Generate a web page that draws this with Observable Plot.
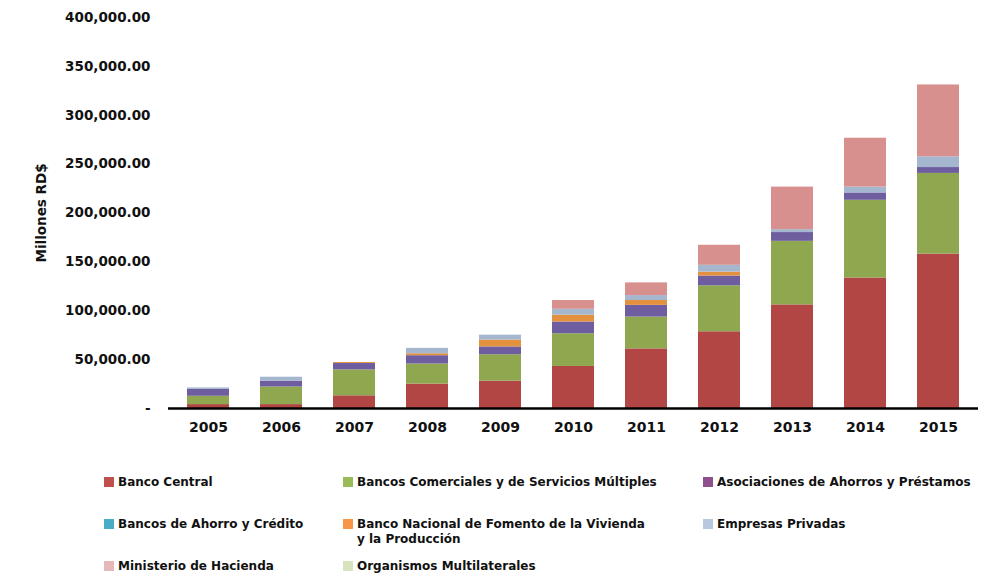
<!DOCTYPE html>
<html>
<head>
<meta charset="utf-8">
<script src="https://cdn.jsdelivr.net/npm/d3@7"></script>
<script src="https://cdn.jsdelivr.net/npm/@observablehq/plot@0.6"></script>
<style>
  html, body { margin: 0; padding: 0; background: #fff; }
  #wrap { position: relative; width: 992px; height: 577px; font-family: "DejaVu Sans", sans-serif; font-weight: bold; }
  #chart { position: absolute; left: 0; top: 0; }
  .leg { position: absolute; font-size: 12px; color: #111; line-height: 15px; }
  .sw { position: absolute; width: 10px; height: 10px; }
</style>
</head>
<body>
<div id="wrap"><div id="chart"></div><div id="legend"></div></div>
<script>
const years = ["2005","2006","2007","2008","2009","2010","2011","2012","2013","2014","2015"];
const seriesNames = [
  "Banco Central",
  "Bancos Comerciales y de Servicios Múltiples",
  "Asociaciones de Ahorros y Préstamos",
  "Bancos de Ahorro y Crédito",
  "Banco Nacional de Fomento de la Vivienda y la Producción",
  "Empresas Privadas",
  "Ministerio de Hacienda",
  "Organismos Multilaterales"
];
const bancoCentral      = [4000, 4000, 13000, 25000, 28000, 43000, 61000, 78500, 106000, 133500, 158000];
const bancosComerciales = [8500, 18000, 26500, 20500, 27000, 33500, 32500, 47000, 65000, 79500, 82500];
const asociaciones      = [7000, 6000, 6500, 8500, 8000, 12000, 12000, 10000, 9000, 7500, 6000];
const bancosAhorro      = [0, 0, 0, 0, 0, 0, 0, 0, 0, 0, 0];
const bnv               = [0, 0, 1000, 2000, 7000, 7000, 5000, 4000, 0, 0, 0];
const empresas          = [1500, 4000, 0, 5500, 5000, 6000, 5000, 7000, 3000, 6000, 11000];
const hacienda          = [0, 0, 0, 0, 0, 9000, 13000, 20500, 43500, 50000, 73500];
const organismos        = [0, 0, 0, 0, 0, 0, 0, 0, 0, 0, 0];
const yTicks = [0, 50000, 100000, 150000, 200000, 250000, 300000, 350000, 400000];

const barColors = ["#b24644", "#8fa84f", "#6e5ea0", "#4bacc6", "#e3913f", "#a5b6cf", "#d8908f", "#d7e4bd"];
const legendColors = ["#c0504d", "#9bbb59", "#8e4f8e", "#4bacc6", "#f79646", "#b7c9dd", "#e6b9b8", "#d7e4bd"];

const allSeries = [bancoCentral, bancosComerciales, asociaciones, bancosAhorro, bnv, empresas, hacienda, organismos];
const data = [];
allSeries.forEach((arr, si) => arr.forEach((v, i) => data.push({year: years[i], series: seriesNames[si], value: v})));

const fmt = d3.format(",.2f");
const chart = Plot.plot({
  width: 992,
  height: 455,
  marginLeft: 168,
  marginRight: 14,
  marginTop: 17,
  marginBottom: 47,
  style: {fontFamily: "DejaVu Sans, sans-serif", fontWeight: "bold", fontSize: "13.5px", color: "#111"},
  x: {domain: years, paddingInner: 0.43, paddingOuter: 0.215, label: null},
  y: {domain: [0, 400000], label: null},
  color: {domain: seriesNames, range: barColors},
  marks: [
    Plot.barY(data, {x: "year", y: "value", fill: "series", order: seriesNames}),
    Plot.ruleY([0], {stroke: "#000", strokeWidth: 2.5}),
    Plot.axisX({tickSize: 0, tickPadding: 14, fontSize: 14, label: null}),
    Plot.axisY({ticks: yTicks, tickSize: 0, tickPadding: 18, tickFormat: d => d === 0 ? "-" : fmt(d),
                label: "Millones RD$", labelAnchor: "center", labelArrow: "none", labelOffset: 132})
  ]
});
document.getElementById("chart").appendChild(chart);

const legendPos = [
  [104, 475], [343, 475], [703, 475],
  [104, 517], [343, 517], [703, 517],
  [104, 559], [343, 559]
];
const legendText = [
  "Banco Central",
  "Bancos Comerciales y de Servicios Múltiples",
  "Asociaciones de Ahorros y Préstamos",
  "Bancos de Ahorro y Crédito",
  "Banco Nacional de Fomento de la Vivienda<br>y la Producción",
  "Empresas Privadas",
  "Ministerio de Hacienda",
  "Organismos Multilaterales"
];
const leg = document.getElementById("legend");
legendPos.forEach(([x, y], i) => {
  const sw = document.createElement("div");
  sw.className = "sw";
  sw.style.left = x + "px"; sw.style.top = (y + 2) + "px";
  sw.style.background = legendColors[i];
  leg.appendChild(sw);
  const t = document.createElement("div");
  t.className = "leg";
  t.style.left = (x + 14) + "px"; t.style.top = y + "px";
  t.innerHTML = legendText[i];
  leg.appendChild(t);
});
</script>
</body>
</html>
